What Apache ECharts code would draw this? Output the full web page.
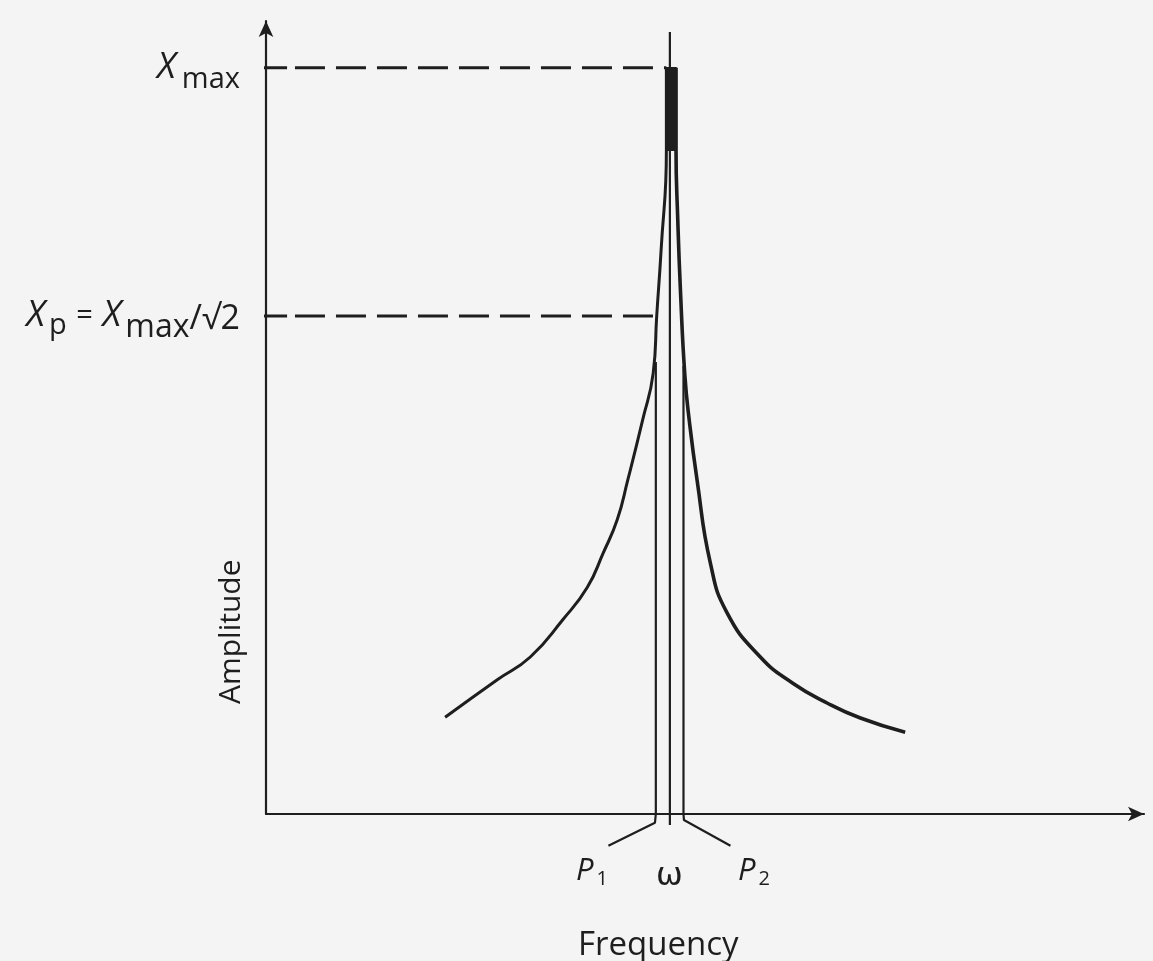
<!DOCTYPE html>
<html>
<head>
<meta charset="utf-8">
<script src="https://cdn.jsdelivr.net/npm/echarts@6/dist/echarts.min.js"></script>
<style>
  html, body { margin: 0; padding: 0; background: #f4f4f4; }
  #chart { width: 1153px; height: 961px; }
</style>
</head>
<body>
<div id="chart"></div>
<script>
// resonance curve (arbitrary units 0-100 on both axes)
const leftFreq = [20.4, 26.3, 30.1, 33.8, 36.6, 38.4, 40.0, 41.2, 42.9, 44.1, 44.5, 45.0, 45.6, 45.6];
const leftAmp = [12.2, 16.9, 19.8, 24.5, 28.6, 32.9, 37.1, 42.1, 49.7, 55.6, 62.8, 71.1, 83.7, 94.1];
const rightFreq = [46.7, 46.7, 46.9, 47.2, 47.7, 48.2, 49.1, 50.6, 52.5, 56.3, 60.0, 63.9, 67.7, 72.8];
const rightAmp = [94.1, 83.7, 74.9, 66.1, 55.4, 49.7, 42.1, 31.7, 25.4, 19.8, 16.5, 14.0, 12.1, 10.3];

// P1, omega, P2 verticals
const markerFreq = [44.4, 46.0, 47.55];
const markerTop = [57.0, 98.6, 56.5];
const bendFreq = [44.3, 46.0, 47.6];
const bendAmp = [-1.1, -1.4, -0.75];
const leaderFreq = [39.0, 46.0, 52.9];
const leaderAmp = [-4.0, -1.4, -4.0];

// Xmax and Xp levels
const levelAmp = [94.1, 62.8];
const levelReach = [45.6, 44.5];
const levelLabels = ['{x|X}{s|max}', '{x|X}{p|p}{n| = }{x|X}{m|max}{r|/√2}'];

const INK = '#1e1e1e';
const FONT = 'Open Sans';

const zip = (a, b) => a.map((v, i) => [v, b[i]]);

function seg(data, width, type) {
  return {
    type: 'line', data: data, showSymbol: false, silent: true, clip: false,
    animation: false, z: 3,
    lineStyle: { color: INK, width: width, type: type || 'solid', cap: 'butt' }
  };
}

const series = [];
series.push(Object.assign(seg(zip(leftFreq, leftAmp), 3), { smooth: 0.5 }));
series.push(Object.assign(seg(zip(rightFreq, rightAmp), 3.6), { smooth: 0.5 }));

markerFreq.forEach((f, i) => {
  series.push(seg([[f, markerTop[i]], [f, 0], [bendFreq[i], bendAmp[i]], [leaderFreq[i], leaderAmp[i]]], 2.2));
});

levelAmp.forEach((a, i) => {
  series.push(seg([[-1.6, a], [2.4, a]], 3));
  series.push(seg([[3.3, a], [levelReach[i], a]], 3, [30, 11]));
});

// solid black top of the peak: left side going up, right side coming down
const peakPoly = zip(leftFreq, leftAmp).filter(p => p[1] > 80)
  .concat(zip(rightFreq, rightAmp).filter(p => p[1] > 80));
series.push({
  type: 'custom', data: [[50, 50]], silent: true, animation: false, clip: false, z: 4,
  renderItem: function (params, api) {
    return {
      type: 'polygon',
      shape: { points: peakPoly.map(p => api.coord(p)) },
      style: { fill: INK, stroke: INK, lineWidth: 1.5 }
    };
  }
});

const sub = { fontFamily: FONT, fontSize: 20, fill: INK, padding: [16, 0, 0, 3] };
const ital = { fontFamily: FONT, fontStyle: 'italic', fontSize: 31, fill: INK };

const chart = echarts.init(document.getElementById('chart'));
chart.setOption({
  backgroundColor: '#f4f4f4',
  animation: false,
  grid: { left: 266, right: 9, top: 21, bottom: 147 },
  xAxis: {
    type: 'value', min: 0, max: 100,
    axisLine: { show: true, symbol: ['none', 'arrow'], symbolSize: [11, 16], lineStyle: { color: INK, width: 2.2 } },
    axisTick: { show: false }, axisLabel: { show: false }, splitLine: { show: false }
  },
  yAxis: {
    type: 'value', min: 0, max: 100,
    axisLine: { show: true, symbol: ['none', 'arrow'], symbolSize: [11, 16], lineStyle: { color: INK, width: 2.2 } },
    axisTick: { show: false }, splitLine: { show: false },
    axisLabel: {
      show: true, customValues: levelAmp, margin: 26,
      formatter: v => levelLabels[levelAmp.indexOf(v)],
      rich: {
        x: { fontFamily: FONT, fontStyle: 'italic', fontSize: 36, color: INK },
        s: { fontFamily: FONT, fontSize: 29, color: INK, padding: [24, 0, 0, 6] },
        p: { fontFamily: FONT, fontSize: 29, color: INK, padding: [20, 0, 0, 4] },
        n: { fontFamily: FONT, fontSize: 29, color: INK, padding: [0, 2, 0, 2] },
        m: { fontFamily: FONT, fontSize: 32, color: INK, padding: [24, 0, 0, 4] },
        r: { fontFamily: FONT, fontSize: 34, color: INK, padding: [6, 0, 0, 0] }
      }
    }
  },
  graphic: [
    { type: 'text', left: 576, top: 856, style: { text: '{i|P}{s|1}', rich: { i: ital, s: sub } } },
    { type: 'text', left: 656, top: 861, style: { text: 'ω', fontFamily: 'DejaVu Sans', fontSize: 32, fill: INK } },
    { type: 'text', left: 738, top: 856, style: { text: '{i|P}{s|2}', rich: { i: ital, s: sub } } },
    { type: 'text', left: 578, top: 929, style: { text: 'Frequency', fontFamily: FONT, fontSize: 33, fill: INK } },
    { type: 'text', x: 216, y: 704, rotation: Math.PI / 2, style: { text: 'Amplitude', fontFamily: FONT, fontSize: 30, fill: INK } }
  ],
  series: series
});
</script>
</body>
</html>
